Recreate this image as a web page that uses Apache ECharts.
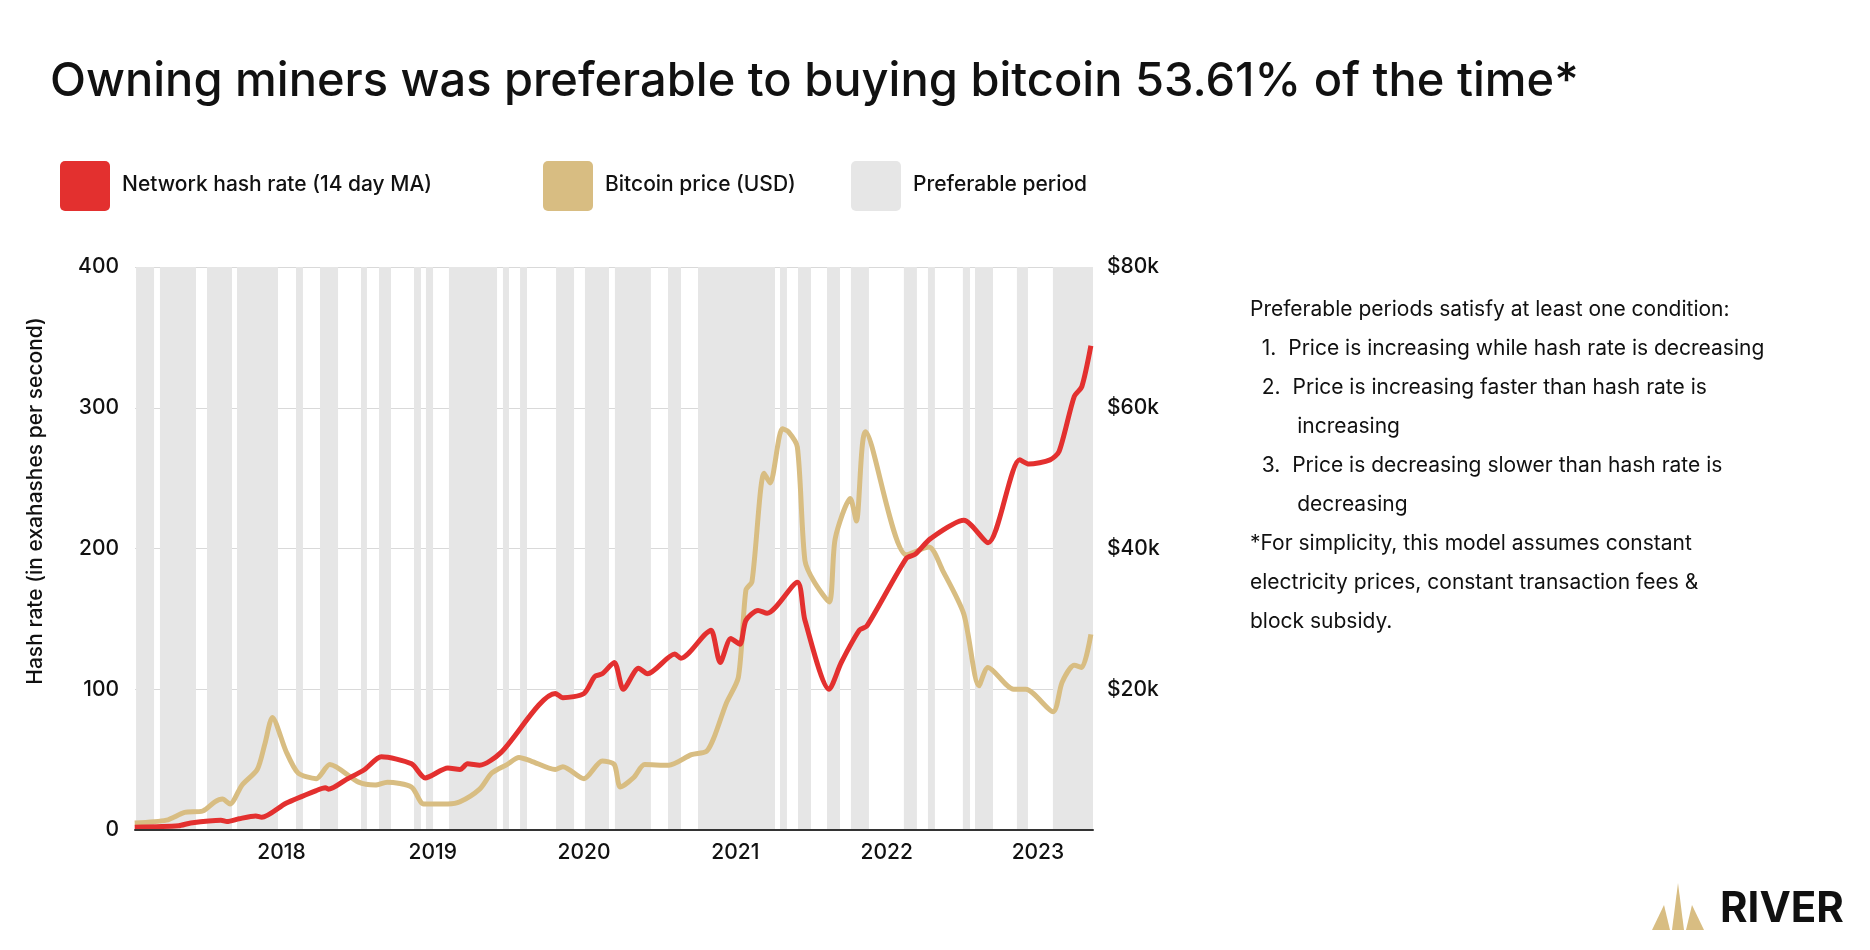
<!DOCTYPE html>
<html lang="en">
<head>
<meta charset="UTF-8">
<title>Owning miners vs buying bitcoin</title>
<script src="https://cdn.jsdelivr.net/npm/echarts@6.0.0/dist/echarts.min.js"></script>
<style>
  html, body { margin: 0; padding: 0; background: #fff; }
  #chart { width: 1870px; height: 950px; }
</style>
</head>
<body>
<div id="chart"></div>
<script>
// times are decimal years
var hashRate = [
  [2017.03, 2], [2017.32, 3], [2017.40, 5], [2017.60, 7], [2017.64, 6], [2017.72, 8],
  [2017.83, 10], [2017.87, 9], [2018.03, 19], [2018.23, 28], [2018.29, 30], [2018.31, 29],
  [2018.43, 36], [2018.55, 43], [2018.66, 52], [2018.86, 47], [2018.95, 37], [2019.10, 44],
  [2019.18, 43], [2019.23, 47], [2019.31, 46], [2019.45, 55], [2019.81, 97], [2019.86, 94],
  [2020.00, 97], [2020.07, 109], [2020.12, 111], [2020.20, 119], [2020.26, 100], [2020.36, 115],
  [2020.42, 111], [2020.60, 125], [2020.64, 122], [2020.80, 139], [2020.84, 142], [2020.90, 119],
  [2020.97, 136], [2021.03, 132], [2021.07, 149], [2021.15, 156], [2021.21, 154], [2021.41, 176],
  [2021.46, 149], [2021.62, 100], [2021.70, 119], [2021.82, 142], [2021.87, 145], [2022.13, 193],
  [2022.19, 196], [2022.29, 207], [2022.51, 220], [2022.67, 204], [2022.88, 263], [2022.94, 260],
  [2023.08, 263], [2023.14, 269], [2023.24, 308], [2023.29, 315], [2023.35, 344]
];
var btcPrice = [
  [2017.03, 1000], [2017.24, 1400], [2017.36, 2500], [2017.48, 2700], [2017.56, 4000],
  [2017.61, 4400], [2017.66, 3700], [2017.74, 6400], [2017.84, 8600], [2017.89, 12200],
  [2017.94, 16000], [2018.03, 11200], [2018.11, 8100], [2018.23, 7300], [2018.32, 9300],
  [2018.51, 6800], [2018.62, 6400], [2018.70, 6800], [2018.86, 6100], [2018.94, 3700],
  [2019.10, 3700], [2019.18, 4000], [2019.31, 5800], [2019.39, 8100], [2019.49, 9300],
  [2019.57, 10300], [2019.65, 9800], [2019.81, 8600], [2019.86, 9000], [2020.00, 7300],
  [2020.12, 9800], [2020.20, 9300], [2020.24, 6100], [2020.33, 7500], [2020.40, 9300],
  [2020.56, 9200], [2020.71, 10700], [2020.81, 11200], [2020.86, 13200], [2020.94, 18000],
  [2021.02, 21700], [2021.07, 34100], [2021.11, 35300], [2021.19, 50700], [2021.23, 49300],
  [2021.31, 57000], [2021.35, 56600], [2021.41, 54400], [2021.46, 38300], [2021.52, 35300],
  [2021.62, 32400], [2021.66, 41400], [2021.76, 47100], [2021.80, 43900], [2021.86, 56600],
  [2022.13, 39100], [2022.28, 40200], [2022.37, 36900], [2022.51, 30700], [2022.61, 20500],
  [2022.67, 23100], [2022.84, 20000], [2022.92, 20000], [2023.10, 16800], [2023.16, 21000],
  [2023.24, 23400], [2023.29, 23100], [2023.35, 27800]
];
var preferablePeriods = [
  [2017.039, 2017.158], [2017.197, 2017.435], [2017.508, 2017.673], [2017.706, 2017.977],
  [2018.096, 2018.142], [2018.255, 2018.374], [2018.526, 2018.565], [2018.645, 2018.724],
  [2018.876, 2018.922], [2018.955, 2019.002], [2019.107, 2019.425], [2019.464, 2019.504],
  [2019.577, 2019.623], [2019.815, 2019.934], [2020.006, 2020.165], [2020.204, 2020.442],
  [2020.555, 2020.641], [2020.753, 2021.262], [2021.295, 2021.341], [2021.414, 2021.500],
  [2021.606, 2021.692], [2021.764, 2021.883], [2022.114, 2022.200], [2022.273, 2022.319],
  [2022.504, 2022.551], [2022.584, 2022.703], [2022.861, 2022.934], [2023.099, 2023.364]
];
var yearLabels = [2018, 2019, 2020, 2021, 2022, 2023];
var hashTicks = [0, 100, 200, 300, 400];
var priceTicks = [20000, 40000, 60000, 80000];

var FONT = 'Inter, "Noto Sans", sans-serif';
var RED = '#e3302f', TAN = '#d8bd82', BAND = '#e6e6e6';

var notes = [
  'Preferable periods satisfy at least one condition:',
  '  1.  Price is increasing while hash rate is decreasing',
  '  2.  Price is increasing faster than hash rate is',
  '        increasing',
  '  3.  Price is decreasing slower than hash rate is',
  '        decreasing',
  '*For simplicity, this model assumes constant',
  'electricity prices, constant transaction fees &',
  'block subsidy.'
];

var chart = echarts.init(document.getElementById('chart'));

function legendItem(x, color, label) {
  return [
    { type: 'rect', left: x, top: 161, shape: { width: 50, height: 50, r: 5 }, style: { fill: color } },
    { type: 'text', left: x + 62, top: 174, style: { text: label, font: '500 21px ' + FONT, fill: '#111' } }
  ];
}

var option = {
  animation: false,
  textStyle: { fontFamily: FONT },
  grid: { left: 135, right: 777, top: 267, bottom: 120 },
  graphic: [
    { type: 'text', left: 50, top: 58, style: { text: 'Owning miners was preferable to buying bitcoin 53.61% of the time*', font: '500 47px ' + FONT, fill: '#111' } },
    { type: 'text', left: 1250, top: 290, style: { text: notes.join('\n'), font: '21px ' + FONT, fill: '#111', lineHeight: 39 } },
    { type: 'text', x: 36, y: 501, rotation: Math.PI / 2,
      style: { text: 'Hash rate (in exahashes per second)', font: '500 21px ' + FONT, fill: '#111', align: 'center', verticalAlign: 'middle' } },
    // RIVER logo
    { type: 'polygon', shape: { points: [[1652, 930], [1664, 905], [1670, 930]] }, style: { fill: TAN } },
    { type: 'polygon', shape: { points: [[1672, 930], [1678, 883], [1684, 930]] }, style: { fill: TAN } },
    { type: 'polygon', shape: { points: [[1686, 930], [1692, 905], [1704, 930]] }, style: { fill: TAN } },
    { type: 'text', left: 1720, top: 888, style: { text: 'RIVER', font: 'bold 42px ' + FONT, fill: '#111' } }
  ].concat(legendItem(60, RED, 'Network hash rate (14 day MA)'))
   .concat(legendItem(543, TAN, 'Bitcoin price (USD)'))
   .concat(legendItem(851, BAND, 'Preferable period')),
  xAxis: {
    type: 'value', min: 2017.032, max: 2023.364, z: 10,
    splitLine: { show: false },
    axisLine: { lineStyle: { color: '#333', width: 2 } },
    axisTick: { show: false },
    axisLabel: { customValues: yearLabels, formatter: function (v) { return String(Math.round(v)); }, color: '#111', fontSize: 21, fontWeight: 500, margin: 12 }
  },
  yAxis: [
    {
      type: 'value', min: 0, max: 400, interval: 100,
      axisLine: { show: false }, axisTick: { show: false },
      axisLabel: { customValues: hashTicks, color: '#111', fontSize: 21, fontWeight: 500, margin: 16 },
      splitLine: { lineStyle: { color: '#d9d9d9', width: 1 } }
    },
    {
      type: 'value', min: 0, max: 80000, interval: 20000,
      axisLine: { show: false }, axisTick: { show: false },
      axisLabel: { customValues: priceTicks, color: '#111', fontSize: 21, fontWeight: 500, margin: 14,
        formatter: function (v) { return '$' + (v / 1000) + 'k'; } },
      splitLine: { show: false }
    }
  ],
  series: [
    {
      type: 'line', name: 'Preferable period', data: [], silent: true, z: 1,
      markArea: {
        silent: true,
        itemStyle: { color: BAND },
        data: preferablePeriods.map(function (p) { return [{ xAxis: p[0] }, { xAxis: p[1] }]; })
      }
    },
    {
      type: 'line', name: 'Bitcoin price (USD)', yAxisIndex: 1, data: btcPrice,
      showSymbol: false, smooth: 0.25, lineStyle: { color: TAN, width: 5 }, z: 3
    },
    {
      type: 'line', name: 'Network hash rate (14 day MA)', data: hashRate,
      showSymbol: false, smooth: 0.25, lineStyle: { color: RED, width: 5 }, z: 4
    }
  ]
};
chart.setOption(option);
</script>
</body>
</html>
